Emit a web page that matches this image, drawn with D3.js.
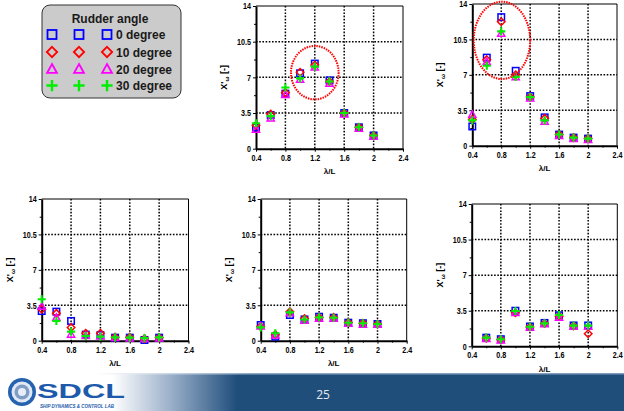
<!DOCTYPE html>
<html>
<head>
<meta charset="utf-8">
<script src="https://cdn.jsdelivr.net/npm/d3@7"></script>
<style>
  html, body { margin: 0; padding: 0; background: #fff; }
  svg { display: block; }
  text { font-family: Arial, "Liberation Sans", sans-serif; }
</style>
</head>
<body>
<svg id="chart" width="624" height="411"></svg>
<script>
// Wave length ratio (x) shared by every panel
const lambda = [0.4, 0.6, 0.8, 1.0, 1.2, 1.4, 1.6, 1.8, 2.0];
const rudderLabels = ["0 degree", "10 degree", "20 degree", "30 degree"];
const xTicks = [0.4, 0.8, 1.2, 1.6, 2.0, 2.4];
const xMinor = [0.6, 1.0, 1.4, 1.8, 2.2];
const yTicks = [0, 3.5, 7, 10.5, 14];
const yMinor = [1.75, 5.25, 8.75, 12.25];
const pageNumber = "25";

// Panel A (top middle): series per rudder angle
const a0 = [2.1, 3.3, 5.4, 7.4, 8.35, 6.7, 3.5, 2.1, 1.3];
const a10 = [2.3, 3.4, 5.5, 7.5, 8.2, 6.6, 3.5, 2.1, 1.3];
const a20 = [1.9, 3.0, 5.3, 6.8, 8.0, 6.4, 3.4, 2.0, 1.2];
const a30 = [2.5, 3.2, 6.0, 6.9, 8.05, 6.6, 3.5, 2.1, 1.3];

// Panel B (top right)
const b0 = [1.9, 8.7, 12.7, 7.4, 4.9, 2.8, 1.1, 0.8, 0.7];
const b10 = [2.6, 8.5, 12.25, 7.0, 4.8, 2.7, 1.1, 0.8, 0.7];
const b20 = [3.1, 8.3, 11.1, 6.8, 4.7, 2.4, 1.0, 0.7, 0.6];
const b30 = [2.5, 7.9, 11.3, 6.8, 4.8, 2.5, 1.1, 0.8, 0.7];

// Panel C (bottom left)
const c0 = [2.93, 2.87, 1.95, 0.6, 0.55, 0.3, 0.3, 0.07, 0.3];
const c10 = [3.1, 2.7, 1.3, 0.73, 0.73, 0.35, 0.35, 0.2, 0.3];
const c20 = [3.4, 2.3, 0.63, 0.5, 0.45, 0.3, 0.25, 0.2, 0.25];
const c30 = [4.1, 1.95, 0.9, 0.46, 0.4, 0.33, 0.3, 0.25, 0.33];

// Panel D (bottom middle)
const d0 = [1.55, 0.4, 2.54, 2.1, 2.37, 2.27, 1.78, 1.73, 1.65];
const d10 = [1.4, 0.6, 2.85, 2.2, 2.3, 2.3, 1.8, 1.73, 1.65];
const d20 = [1.45, 0.55, 2.75, 2.0, 2.2, 2.2, 1.7, 1.6, 1.6];
const d30 = [1.32, 0.73, 2.8, 2.1, 2.3, 2.27, 1.78, 1.73, 1.65];

// Panel E (bottom right), no run at 0.4
const e0 = [null, 0.85, 0.7, 3.5, 1.95, 2.3, 3.05, 2.05, 2.05];
const e10 = [null, 0.8, 0.65, 3.3, 1.9, 2.25, 2.95, 2.0, 1.24];
const e20 = [null, 0.75, 0.6, 3.3, 1.85, 2.2, 2.85, 1.95, 1.95];
const e30 = [null, 0.85, 0.69, 3.47, 1.93, 2.26, 3.08, 2.03, 2.03];

// Highlight ellipses [cx, cy, rx, ry] in data units
const ellipseA = [1.2, 7.46, 0.324, 2.62];
const ellipseB = [0.81, 10.41, 0.39, 3.82];

const colors = ["#0000ff", "#ff0000", "#ff00ff", "#00ee00"];
const shapes = ["square", "diamond", "triangle", "plus"];

const svg = d3.select("#chart");

function marker(g, shape, cx, cy, s, color, w) {
  const h = s / 2;
  if (shape === "square") {
    g.append("rect").attr("x", cx - h).attr("y", cy - h).attr("width", s).attr("height", s)
      .attr("fill", "none").attr("stroke", color).attr("stroke-width", w);
  } else if (shape === "diamond") {
    const r = h * 1.15;
    g.append("path").attr("d", `M${cx},${cy - r}L${cx + r},${cy}L${cx},${cy + r}L${cx - r},${cy}Z`)
      .attr("fill", "none").attr("stroke", color).attr("stroke-width", w);
  } else if (shape === "triangle") {
    const r = h * 1.1;
    g.append("path").attr("d", `M${cx},${cy - r}L${cx + r},${cy + r * 0.8}L${cx - r},${cy + r * 0.8}Z`)
      .attr("fill", "none").attr("stroke", color).attr("stroke-width", w);
  } else {
    const r = h * 1.25;
    g.append("path").attr("d", `M${cx - r},${cy}H${cx + r}M${cx},${cy - r}V${cy + r}`)
      .attr("fill", "none").attr("stroke", color).attr("stroke-width", w + 0.6);
  }
}

function fmt(d) {
  return Math.abs(d - Math.round(d)) < 1e-9 ? String(Math.round(d)) : String(d);
}

function condense(sel) {
  sel.attr("textLength", function () { return this.getComputedTextLength() * 0.84; })
    .attr("lengthAdjust", "spacingAndGlyphs");
}

function panel(box, series, ellipse) {
  const x = d3.scaleLinear().domain([0.4, 2.4]).range([box.x0, box.x1]);
  const y = d3.scaleLinear().domain([0, 14]).range([box.y1, box.y0]);
  const g = svg.append("g");

  // dotted grid
  g.selectAll(".gx").data(xTicks.filter(v => v > 0.41 && v < 2.39)).enter().append("line")
    .attr("x1", d => x(d)).attr("x2", d => x(d)).attr("y1", box.y0).attr("y2", box.y1)
    .attr("stroke", "#000").attr("stroke-width", 1.5).attr("stroke-dasharray", "1.6,1.6");
  g.selectAll(".gy").data(yTicks.filter(v => v > 0 && v < 14)).enter().append("line")
    .attr("x1", box.x0).attr("x2", box.x1).attr("y1", d => y(d)).attr("y2", d => y(d))
    .attr("stroke", "#000").attr("stroke-width", 1.5).attr("stroke-dasharray", "1.6,1.6");

  // frame top/right
  g.append("path").attr("d", `M${box.x0},${box.y0}H${box.x1}V${box.y1}`)
    .attr("fill", "none").attr("stroke", "#000").attr("stroke-width", 1);

  // axes
  const xAxis = g.append("g").attr("transform", `translate(0,${box.y1})`)
    .call(d3.axisBottom(x).tickValues(xTicks).tickSize(3).tickSizeOuter(0).tickPadding(3).tickFormat(fmt));
  g.append("g").attr("transform", `translate(0,${box.y1})`)
    .call(d3.axisBottom(x).tickValues(xMinor).tickSize(2).tickSizeOuter(0).tickFormat(""))
    .select(".domain").remove();
  const yAxis = g.append("g").attr("transform", `translate(${box.x0},0)`)
    .call(d3.axisLeft(y).tickValues(yTicks).tickSize(3).tickSizeOuter(0).tickPadding(2).tickFormat(fmt));
  g.append("g").attr("transform", `translate(${box.x0},0)`)
    .call(d3.axisLeft(y).tickValues(yMinor).tickSize(2).tickSizeOuter(0).tickFormat(""))
    .select(".domain").remove();
  [xAxis, yAxis].forEach(a => {
    a.select(".domain").attr("stroke-width", 2);
    a.selectAll(".tick text").attr("font-size", 8.5).attr("font-weight", "bold").attr("fill", "#000");
    condense(a.selectAll(".tick text"));
  });
  g.selectAll(".tick line").attr("stroke-width", 1);

  // axis titles
  g.append("text").attr("x", (box.x0 + box.x1) / 2).attr("y", box.y1 + 25.5)
    .attr("text-anchor", "middle").attr("font-size", 8).attr("font-weight", "bold").text("λ/L");
  const yl = g.append("text")
    .attr("transform", `translate(${box.x0 - 29},${(box.y0 + box.y1) / 2}) rotate(-90)`)
    .attr("text-anchor", "middle").attr("font-size", 9).attr("font-weight", "bold");
  yl.append("tspan").text("X'");
  yl.append("tspan").attr("font-size", 6).attr("dy", 2).text("ω");
  yl.append("tspan").attr("dy", -2).text(" [-]");

  // markers
  series.forEach((vals, i) => {
    vals.forEach((v, j) => {
      if (v === null) return;
      marker(g, shapes[i], x(lambda[j]), y(v), 6.5, colors[i], 1.5);
    });
  });

  if (ellipse) {
    const [cx, cy, rx, ry] = ellipse;
    g.append("ellipse").attr("cx", x(cx)).attr("cy", y(cy))
      .attr("rx", x(0.4 + rx) - x(0.4)).attr("ry", y(0) - y(ry))
      .attr("fill", "none").attr("stroke", "#ff0000").attr("stroke-width", 2)
      .attr("stroke-dasharray", "1.5,1");
  }
}

panel({ x0: 256, x1: 403, y0: 6, y1: 148.7 }, [a0, a10, a20, a30], ellipseA);
panel({ x0: 472.3, x1: 617, y0: 4, y1: 145.7 }, [b0, b10, b20, b30], ellipseB);
panel({ x0: 41.7, x1: 188.5, y0: 199, y1: 340.7 }, [c0, c10, c20, c30], null);
panel({ x0: 260.7, x1: 406.7, y0: 199, y1: 340.7 }, [d0, d10, d20, d30], null);
panel({ x0: 471.7, x1: 617.3, y0: 204, y1: 346.3 }, [e0, e10, e20, e30], null);

// legend
const lg = svg.append("g");
lg.append("rect").attr("x", 42).attr("y", 5).attr("width", 139).attr("height", 93)
  .attr("rx", 8).attr("fill", "#cbcbcb").attr("stroke", "#333").attr("stroke-width", 1);
lg.append("text").attr("x", 110).attr("y", 23).attr("text-anchor", "middle")
  .attr("font-size", 12).attr("font-weight", "bold").attr("fill", "#1a1a1a").text("Rudder angle");
const rowY = [34.5, 52, 69, 85.5];
const colX = [52, 79, 107];
rudderLabels.forEach((lab, i) => {
  colX.forEach(cx => marker(lg, shapes[i], cx, rowY[i], 9, colors[i], 1.8));
  lg.append("text").attr("x", 116).attr("y", rowY[i] + 4.5)
    .attr("font-size", 12).attr("font-weight", "bold").attr("fill", "#1a1a1a").text(lab);
});

// footer band
const defs = svg.append("defs");
const grad = defs.append("linearGradient").attr("id", "band").attr("x1", 0).attr("x2", 1);
grad.append("stop").attr("offset", 0).attr("stop-color", "#ffffff");
grad.append("stop").attr("offset", 0.18).attr("stop-color", "#ffffff");
grad.append("stop").attr("offset", 0.27).attr("stop-color", "#9fb3cc");
grad.append("stop").attr("offset", 0.38).attr("stop-color", "#1f4e7b");
grad.append("stop").attr("offset", 1).attr("stop-color", "#1f4e7b");
svg.append("rect").attr("x", 0).attr("y", 374).attr("width", 624).attr("height", 37).attr("fill", "url(#band)");
const lineGrad = defs.append("linearGradient").attr("id", "bandLine").attr("x1", 0).attr("x2", 1);
lineGrad.append("stop").attr("offset", 0.15).attr("stop-color", "#ffffff");
lineGrad.append("stop").attr("offset", 0.4).attr("stop-color", "#8fa8c4");
lineGrad.append("stop").attr("offset", 1).attr("stop-color", "#7f9bbd");
svg.append("rect").attr("x", 0).attr("y", 373).attr("width", 624).attr("height", 1.5).attr("fill", "url(#bandLine)");
svg.append("text").attr("x", 323).attr("y", 399).attr("text-anchor", "middle")
  .attr("font-size", 12).attr("fill", "#e6ebf2").style("font-family", "'Open Sans', sans-serif").text(pageNumber);

// lab logo
const logo = svg.append("g");
logo.append("circle").attr("cx", 22).attr("cy", 392).attr("r", 14).attr("fill", "#2563b0");
logo.append("circle").attr("cx", 22).attr("cy", 392).attr("r", 10.5).attr("fill", "#dfe8f4");
logo.append("circle").attr("cx", 22).attr("cy", 392).attr("r", 7.5).attr("fill", "#7f9cc6");
logo.append("circle").attr("cx", 22).attr("cy", 392).attr("r", 4).attr("fill", "#e8eef7");
logo.append("text").attr("x", 37).attr("y", 398).attr("font-size", 21).attr("font-weight", "bold")
  .attr("fill", "#1d5aab").attr("textLength", 88).attr("lengthAdjust", "spacingAndGlyphs").text("SDCL");
logo.append("text").attr("x", 40).attr("y", 408).attr("font-size", 4.5).attr("font-weight", "bold")
  .attr("font-style", "italic").attr("fill", "#1d5aab").text("SHIP DYNAMICS & CONTROL LAB");
</script>
</body>
</html>
